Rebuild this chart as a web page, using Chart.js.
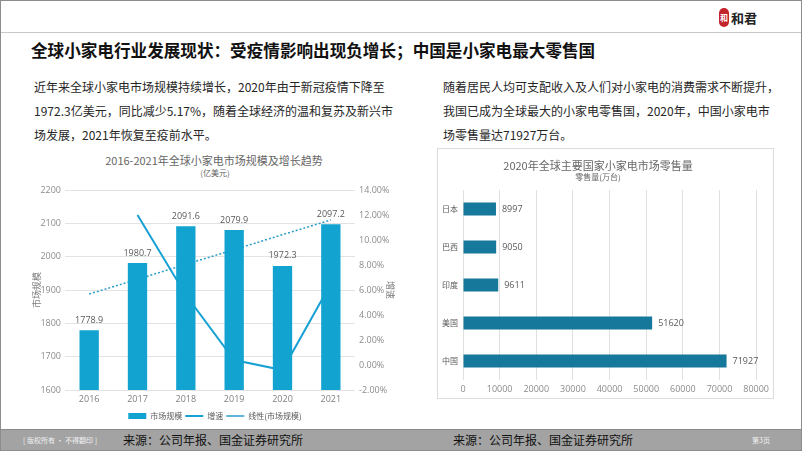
<!DOCTYPE html>
<html>
<head>
<meta charset="utf-8">
<script src="https://cdn.jsdelivr.net/npm/chart.js@4"></script>
<style>
  body { margin: 0; background: #fff; }
  #page { position: relative; width: 802px; height: 451px; overflow: hidden; background: #fff; font-family: "Noto Sans CJK SC", sans-serif; color: #1a1a1a; }
  .abs { position: absolute; white-space: nowrap; }
  #frame { position: absolute; left: 0; top: 0; width: 802px; height: 451px; box-sizing: border-box; border: 1px solid #8c8c8c; pointer-events: none; }
  #head-line { position: absolute; left: 0; top: 32px; width: 802px; height: 1px; background: #c8c8c8; }
  #seal { position: absolute; left: 719px; top: 8px; width: 10px; height: 19px; border-radius: 5px; background: #c3242b; color: #fff; font-size: 8px; line-height: 19px; text-align: center; font-weight: bold; }
  #brand { left: 731px; top: 9px; font-size: 13px; line-height: 17px; font-weight: bold; color: #222; }
  #title { left: 31px; top: 40px; font-size: 16.6px; line-height: 20px; font-weight: bold; color: #111; }
  .para { top: 75px; font-size: 12px; line-height: 24px; color: #262626; }
  .ctitle { font-size: 11px; line-height: 14px; color: #666; text-align: center; transform: translateX(-50%); }
  .csub { font-size: 8px; line-height: 10px; color: #666; text-align: center; transform: translateX(-50%); }
  #retail-box { position: absolute; left: 437px; top: 148px; width: 337px; height: 251px; box-sizing: border-box; border: 1px solid #dcdcdc; }
  #footer { position: absolute; left: 0; top: 429px; width: 802px; height: 22px; background: #a3a3a3; border-top: 1px solid #8a8a8a; box-sizing: border-box; }
  .src { top: 432px; font-size: 12px; line-height: 16px; color: #111; }
  .tiny { top: 435px; font-size: 7px; line-height: 10px; color: #f2f2f2; }
  canvas { position: absolute; }
</style>
</head>
<body>
<div id="page">
  <div id="head-line"></div>
  <div id="seal">和</div>
  <div class="abs" id="brand">和君</div>

  <div class="abs" id="title">全球小家电行业发展现状：受疫情影响出现负增长；中国是小家电最大零售国</div>

  <div class="abs para" style="left:34px">近年来全球小家电市场规模持续增长，2020年由于新冠疫情下降至<br>1972.3亿美元，同比减少5.17%，随着全球经济的温和复苏及新兴市<br>场发展，2021年恢复至疫前水平。</div>
  <div class="abs para" style="left:443px">随着居民人均可支配收入及人们对小家电的消费需求不断提升，<br>我国已成为全球最大的小家电零售国，2020年，中国小家电市<br>场零售量达71927万台。</div>

  <div class="abs ctitle" style="left:214px; top:153px">2016-2021年全球小家电市场规模及增长趋势</div>
  <div class="abs csub" style="left:215px; top:168px">(亿美元)</div>
  <canvas id="chart-size" width="390" height="250" style="left:20px; top:180px"></canvas>

  <div id="retail-box">
    <canvas id="chart-retail" width="335" height="249" style="left:0; top:0"></canvas>
  </div>
  <div class="abs ctitle" style="left:598px; top:158px">2020年全球主要国家小家电市场零售量</div>
  <div class="abs csub" style="left:598px; top:172px">零售量(万台)</div>

  <div id="footer"></div>
  <div class="abs tiny" style="left:23px">[ 版权所有 · 不得翻印 ]</div>
  <div class="abs src" style="left:123px">来源：公司年报、国金证券研究所</div>
  <div class="abs src" style="left:453px">来源：公司年报、国金证券研究所</div>
  <div class="abs tiny" style="left:752px">第3页</div>
  <div id="frame"></div>
</div>

<script>
const years = ["2016", "2017", "2018", "2019", "2020", "2021"]
const marketSize = [1778.9, 1980.7, 2091.6, 2079.9, 1972.3, 2097.2]
const growthRate = [null, 12.0, 5.6, 0.4, -0.4, 6.5]
const trendLine = [1888, 1932, 1977, 2021, 2066, 2110]

const countries = ["日本", "巴西", "印度", "美国", "中国"]
const retailVolume = [8997, 9050, 9611, 51620, 71927]

const numFont = "\"Open Sans\", \"Noto Sans CJK SC\", sans-serif"
const cjkFont = "\"Noto Sans CJK SC\", sans-serif"
Chart.defaults.font.family = numFont
Chart.defaults.devicePixelRatio = 1

// labels next to the bars
const valueLabels = {
  id: "valueLabels",
  afterDatasetsDraw(chart, args, opts) {
    const ctx = chart.ctx
    const meta = chart.getDatasetMeta(0)
    const data = chart.data.datasets[0].data
    ctx.save()
    ctx.font = "9px " + numFont
    ctx.fillStyle = "#595959"
    meta.data.forEach((bar, i) => {
      const txt = opts.format(data[i])
      if (chart.options.indexAxis === "y") {
        ctx.textAlign = "left"
        ctx.textBaseline = "middle"
        ctx.fillText(txt, bar.x + 6, bar.y)
      } else {
        ctx.textAlign = "center"
        ctx.textBaseline = "middle"
        ctx.fillText(txt, bar.x, bar.y - 10)
      }
    })
    ctx.restore()
  },
}

new Chart(document.getElementById("chart-size"), {
  type: "bar",
  data: {
    labels: years,
    datasets: [
      {
        label: "市场规模",
        data: marketSize,
        backgroundColor: "#12a3d0",
        yAxisID: "y",
        order: 0,
        categoryPercentage: 1,
        barPercentage: 0.4,
      },
      {
        type: "line",
        label: "增速",
        data: growthRate,
        borderColor: "#17a0d3",
        backgroundColor: "#17a0d3",
        borderWidth: 2,
        pointRadius: 0,
        tension: 0,
        yAxisID: "y1",
        order: 1,
      },
      {
        type: "line",
        label: "线性(市场规模)",
        data: trendLine,
        borderColor: "#2b9ccb",
        backgroundColor: "#2b9ccb",
        borderWidth: 1.5,
        borderDash: [2, 2],
        pointRadius: 0,
        yAxisID: "y",
        order: 2,
      },
    ],
  },
  options: {
    responsive: false,
    animation: false,
    layout: { padding: { top: 10, bottom: 0, left: 0, right: 0 } },
    plugins: {
      tooltip: { enabled: false },
      valueLabels: { format: v => v.toFixed(1) },
      legend: {
        position: "bottom",
        labels: {
          color: "#595959",
          font: { size: 8, family: cjkFont },
          usePointStyle: true,
          pointStyleWidth: 18,
          boxHeight: 6,
          padding: 3,
          generateLabels(chart) {
            const items = Chart.defaults.plugins.legend.labels.generateLabels(chart)
            items.forEach(it => { it.pointStyle = it.datasetIndex === 0 ? "rect" : "line" })
            return items
          },
        },
      },
    },
    scales: {
      x: {
        grid: { display: false, drawTicks: false },
        border: { display: false },
        ticks: { color: "#7f7f7f", font: { size: 9 }, padding: 4 },
        afterFit: s => { s.height = 19 },
      },
      y: {
        position: "left",
        min: 1600,
        max: 2200,
        ticks: { stepSize: 100, color: "#8c8c8c", font: { size: 9 }, padding: 4, callback: v => String(v) },
        grid: { color: "#e3e3e3", drawTicks: false },
        border: { display: false },
        title: { display: true, text: "市场规模", color: "#7f7f7f", font: { size: 9, family: cjkFont }, padding: 11 },
        afterFit: s => { s.width = 45 },
      },
      y1: {
        position: "right",
        min: -2,
        max: 14,
        ticks: { stepSize: 2, color: "#8c8c8c", font: { size: 9 }, padding: 4, callback: v => v.toFixed(2) + "%" },
        grid: { display: false, drawTicks: false },
        border: { display: false },
        title: { display: true, text: "增速", color: "#7f7f7f", font: { size: 9, family: cjkFont }, padding: 14 },
        afterFit: s => { s.width = 55 },
      },
    },
  },
  plugins: [valueLabels],
})

new Chart(document.getElementById("chart-retail"), {
  type: "bar",
  data: {
    labels: countries,
    datasets: [
      {
        label: "零售量",
        data: retailVolume,
        backgroundColor: "#16789a",
        categoryPercentage: 1,
        barPercentage: 0.34,
      },
    ],
  },
  options: {
    indexAxis: "y",
    responsive: false,
    animation: false,
    layout: { padding: { top: 41, right: 11, bottom: 0, left: 0 } },
    plugins: {
      legend: { display: false },
      tooltip: { enabled: false },
      valueLabels: { format: v => String(v) },
    },
    scales: {
      x: {
        min: 0,
        max: 80000,
        ticks: { stepSize: 10000, color: "#8c8c8c", font: { size: 9 }, padding: 4, callback: v => String(v) },
        grid: { color: "#e0e0e0", drawTicks: false },
        border: { display: false },
        afterFit: s => { s.height = 18 },
      },
      y: {
        grid: { display: false, drawTicks: false },
        border: { display: false },
        ticks: { color: "#595959", font: { size: 8, family: cjkFont }, padding: 5 },
        afterFit: s => { s.width = 25 },
      },
    },
  },
  plugins: [valueLabels],
})
</script>
</body>
</html>
